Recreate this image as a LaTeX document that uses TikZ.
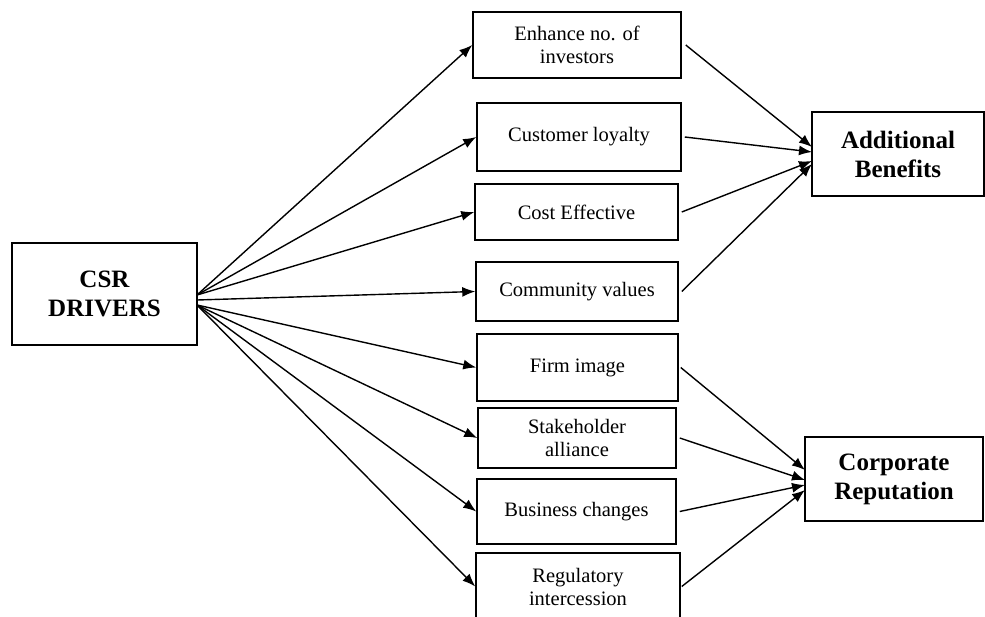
\documentclass[tikz,border=0pt]{standalone}
\usepackage{fontspec}
\setmainfont{Liberation Serif}
\usetikzlibrary{arrows.meta}
\tikzset{
  box/.style={draw=black, line width=1.5pt, fill=white, inner sep=0pt, align=center,
    font=\fontsize{20.5}{23}\selectfont},
  bigbox/.style={box, font=\fontsize{25}{29}\selectfont\bfseries},
  conn/.style={draw=black, line width=1.4pt, -{Latex[length=13pt,width=10pt]}}
}
\begin{document}
\begin{tikzpicture}[x=1pt,y=-1pt]
\useasboundingbox (0,0) rectangle (985,617);
% left
\node[bigbox, minimum width=185pt, minimum height=102pt] (csr) at (104.5,294) {CSR\\DRIVERS};
% middle
\node[box, minimum width=208pt, minimum height=66pt] (enh) at (577,45) {Enhance no. of\\investors};
\node[box, minimum width=204pt, minimum height=68pt] (cus) at (579,137) {Customer loyalty};
\node[box, minimum width=203pt, minimum height=56pt] (cost) at (576.5,212) {Cost Effective};
\node[box, minimum width=202pt, minimum height=59pt] (com) at (577,291.5) {Community values};
\node[box, minimum width=201pt, minimum height=67pt] (firm) at (577.5,367.5) {Firm image};
\node[box, minimum width=198pt, minimum height=60pt] (stake) at (577,438) {Stakeholder\\alliance};
\node[box, minimum width=199pt, minimum height=65pt] (bus) at (576.5,511.5) {Business changes};
\node[box, minimum width=204pt, minimum height=67pt] (reg) at (578,586.5) {Regulatory\\intercession};
% right
\node[bigbox, minimum width=172pt, minimum height=84pt] (add) at (898,154) {Additional\\Benefits};
\node[bigbox, minimum width=178pt, minimum height=84pt] (corp) at (894,479) {Corporate\\Reputation};
% start / end coordinates
\coordinate (su) at (197,295);
\coordinate (sm) at (197,300);
\coordinate (sl) at (197,305);
\coordinate (a1) at (812,147);
\coordinate (a2) at (812,152);
\coordinate (a3) at (812,161);
\coordinate (a4) at (812,164);
\coordinate (c1) at (805,470);
\coordinate (c2) at (805,480);
\coordinate (c3) at (805,485);
\coordinate (c4) at (805,490);
% CSR -> middle
\draw[conn] (su) -- (enh.west);
\draw[conn] (su) -- (cus.west);
\draw[conn] (su) -- (cost.west);
\draw[conn] (sm) -- (com.west);
\draw[conn] (sl) -- (firm.west);
\draw[conn] (sl) -- (stake.west);
\draw[conn] (sl) -- (bus.west);
\draw[conn] (sl) -- (reg.west);
% middle -> right
\draw[conn] ([xshift=4pt]enh.east) -- (a1);
\draw[conn] ([xshift=3pt]cus.east) -- (a2);
\draw[conn] ([xshift=3pt]cost.east) -- (a3);
\draw[conn] ([xshift=3pt]com.east) -- (a4);
\draw[conn] ([xshift=2pt]firm.east) -- (c1);
\draw[conn] ([xshift=3pt]stake.east) -- (c2);
\draw[conn] ([xshift=3pt]bus.east) -- (c3);
\draw[conn] ([xshift=1pt]reg.east) -- (c4);
\end{tikzpicture}
\end{document}
